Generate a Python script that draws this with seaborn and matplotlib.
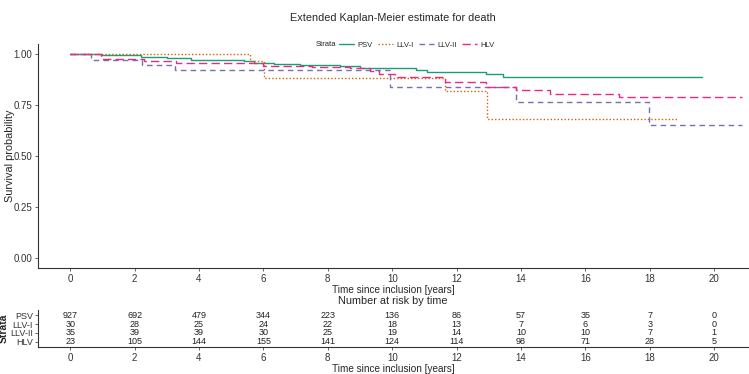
import seaborn as sns
import matplotlib.pyplot as plt
import pandas as pd
from matplotlib.lines import Line2D

# step change points
strata = ["PSV", "LLV-I", "LLV-II", "HLV"]

psv_time = [0, 0.95, 2.19, 3.01, 3.74, 5.39, 5.70, 6.32, 7.14, 8.38, 9.0, 10.75, 11.07, 12.92, 13.44, 19.63]
psv_surv = [1.0, 0.995, 0.989, 0.98, 0.974, 0.966, 0.959, 0.954, 0.949, 0.943, 0.933, 0.924, 0.915, 0.902, 0.888, 0.888]

llv1_time = [0, 5.57, 6.03, 11.63, 12.95, 18.85]
llv1_surv = [1.0, 0.967, 0.886, 0.822, 0.684, 0.684]

llv2_time = [0, 0.64, 2.24, 3.27, 9.93, 13.85, 17.96, 20.86]
llv2_surv = [1.0, 0.972, 0.948, 0.923, 0.837, 0.764, 0.651, 0.651]

hlv_time = [0, 0.95, 2.3, 3.3, 6.0, 7.5, 8.7, 9.3, 9.6, 10.1, 11.63, 12.92, 13.85, 14.9, 17.05, 20.86]
hlv_surv = [1.0, 0.975, 0.965, 0.955, 0.945, 0.94, 0.935, 0.92, 0.905, 0.89, 0.862, 0.84, 0.826, 0.806, 0.79, 0.79]

# number at risk table
risk_times = [0, 2, 4, 6, 8, 10, 12, 14, 16, 18, 20]
risk_psv = [927, 692, 479, 344, 223, 136, 86, 57, 35, 7, 0]
risk_llv1 = [30, 28, 25, 24, 22, 18, 13, 7, 6, 3, 0]
risk_llv2 = [35, 39, 39, 30, 25, 19, 14, 10, 10, 7, 1]
risk_hlv = [23, 105, 144, 155, 141, 124, 114, 98, 71, 28, 5]


def style_axis(ax):
    sns.despine(ax=ax)
    for sp in ax.spines.values():
        sp.set_linewidth(0.8)
        sp.set_color("#333333")
    ax.tick_params(labelsize=7, colors="#4d4d4d", length=2.5, width=0.6, pad=1.5)
    ax.tick_params(labelcolor="#333333")


def main():
    sns.set_theme(style="ticks")
    plt.rcParams["font.family"] = ["Liberation Sans", "DejaVu Sans"]

    colors = {"PSV": "#1B9E77", "LLV-I": "#D95F02", "LLV-II": "#7570B3", "HLV": "#E7298A"}
    dashes = {"PSV": "", "LLV-I": (1, 1.5), "LLV-II": (4, 3), "HLV": (6, 3)}

    curves = {
        "PSV": (psv_time, psv_surv),
        "LLV-I": (llv1_time, llv1_surv),
        "LLV-II": (llv2_time, llv2_surv),
        "HLV": (hlv_time, hlv_surv),
    }
    frames = [pd.DataFrame({"time": t, "surv": s, "strata": name}) for name, (t, s) in curves.items()]
    df = pd.concat(frames, ignore_index=True)

    fig = plt.figure(figsize=(7.49, 3.74), dpi=100)
    ax = fig.add_axes([0.0507, 0.2834, 0.948, 0.5986])
    ax_tab = fig.add_axes([0.0507, 0.0722, 0.948, 0.0988])

    sns.lineplot(ax=ax, data=df, x="time", y="surv", hue="strata", style="strata",
                 hue_order=strata, style_order=strata, palette=colors, dashes=dashes,
                 drawstyle="steps-post", estimator=None, sort=False, linewidth=1.0, legend=False)

    ax.set_xlim(-1, 21.05)
    ax.set_ylim(-0.05, 1.05)
    ax.set_xticks(risk_times)
    ax.set_yticks([0, 0.25, 0.5, 0.75, 1.0])
    ax.set_yticklabels(["0.00", "0.25", "0.50", "0.75", "1.00"])
    ax.set_xlabel("Time since inclusion [years]", fontsize=7.2, labelpad=1)
    ax.set_ylabel("Survival probability", fontsize=7.8)
    ax.yaxis.set_label_coords(-0.032, 0.5)
    style_axis(ax)
    ax.set_title("Extended Kaplan-Meier estimate for death", fontsize=7.8, pad=17)

    # legend: "Strata" label on the left, entries to the right
    handles = [Line2D([], [], color=colors[n], lw=1.0,
                      dashes=dashes[n] if dashes[n] else (None, None)) for n in strata]
    fig.legend(handles, strata, loc="center left", bbox_to_anchor=(339 / 749, 1 - 45 / 374),
               ncol=4, frameon=False, fontsize=5.5, handlelength=2.0, handletextpad=0.4,
               columnspacing=0.7, borderpad=0, borderaxespad=0)
    fig.text(336 / 749, 1 - 45 / 374, "Strata", ha="right", va="center", fontsize=5.5, color="#222222")

    # risk table
    rows = {"PSV": risk_psv, "LLV-I": risk_llv1, "LLV-II": risk_llv2, "HLV": risk_hlv}
    for i, name in enumerate(strata):
        ypos = len(strata) - i
        for t, n in zip(risk_times, rows[name]):
            ax_tab.text(t, ypos, str(n), ha="center", va="center", fontsize=6.5, color="#222222")
    ax_tab.set_xlim(-1, 21.05)
    ax_tab.set_ylim(0.4, 4.6)
    ax_tab.set_yticks([4, 3, 2, 1])
    ax_tab.set_yticklabels(strata)
    ax_tab.set_xticks(risk_times)
    ax_tab.set_xlabel("Time since inclusion [years]", fontsize=7.2, labelpad=1)
    ax_tab.set_ylabel("Strata", fontsize=7.5, fontweight="bold")
    style_axis(ax_tab)
    ax_tab.tick_params(axis="y", labelsize=6.5, pad=1)
    ax_tab.yaxis.set_label_coords(-0.041, 0.5)
    ax_tab.set_title("Number at risk by time", fontsize=7.8, pad=4)

    fig.savefig("out.png", dpi=100)


if __name__ == '__main__':
    main()
